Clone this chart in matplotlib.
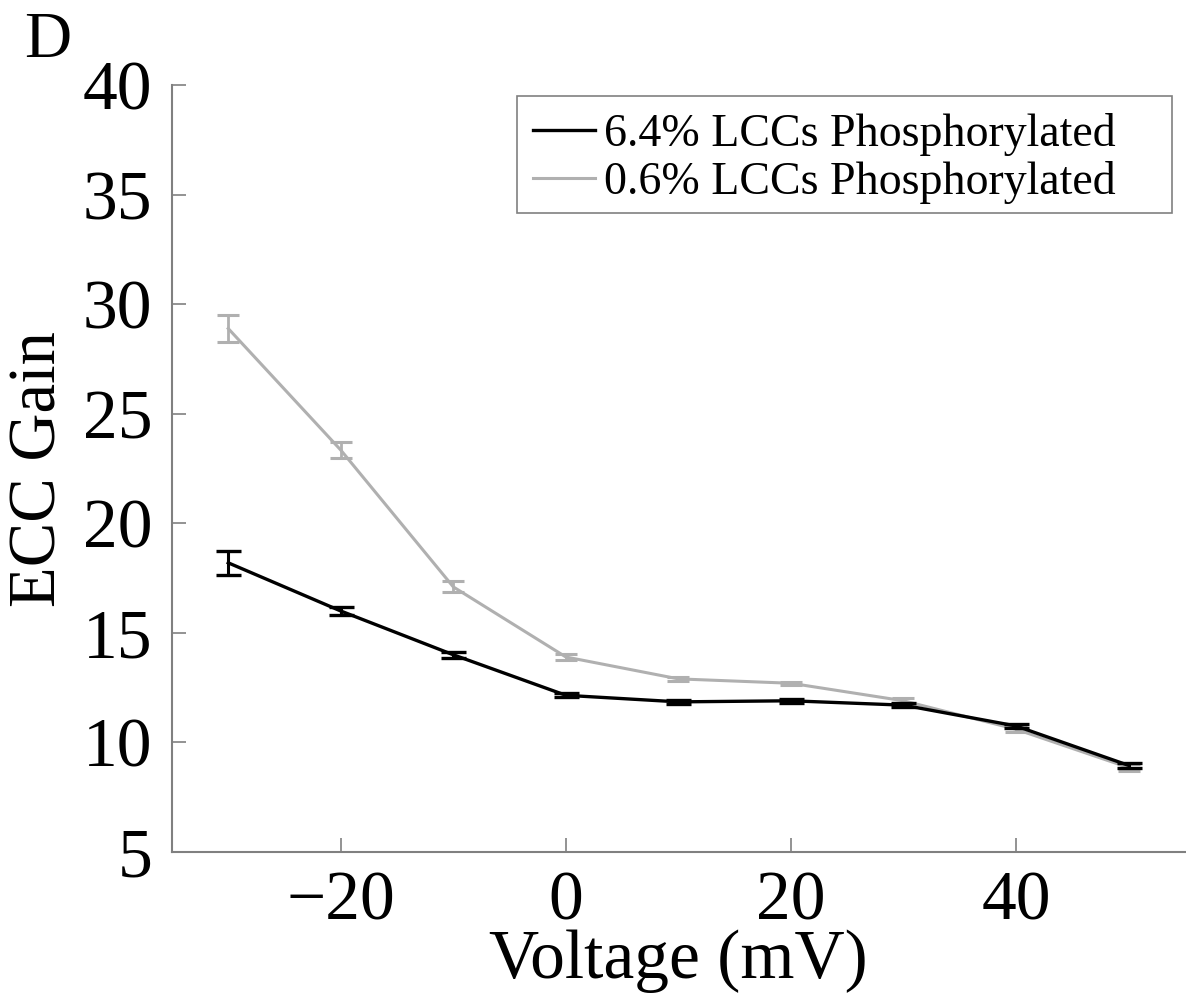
import numpy as np
import matplotlib
matplotlib.use("Agg")
import matplotlib.pyplot as plt
from matplotlib.lines import Line2D
from matplotlib.patches import Rectangle

voltage = [-30, -20, -10, 0, 10, 20, 30, 40, 50]

gain_64 = [18.2, 16.0, 14.0, 12.15, 11.85, 11.9, 11.7, 10.75, 8.95]
err_64 = [0.55, 0.2, 0.15, 0.1, 0.1, 0.08, 0.1, 0.1, 0.12]

gain_06 = [28.9, 23.35, 17.1, 13.9, 12.9, 12.7, 11.9, 10.6, 8.85]
err_06 = [0.6, 0.35, 0.25, 0.12, 0.1, 0.08, 0.12, 0.12, 0.15]

labels = ["6.4% LCCs Phosphorylated", "0.6% LCCs Phosphorylated"]

plt.rcParams['font.family'] = ['Liberation Serif', 'DejaVu Serif']

fig = plt.figure(figsize=(11.86, 9.94), dpi=100)
ax = fig.add_axes([0.145, 0.143, 0.854, 0.771])

gray = '#b0b0b0'
ax.errorbar(voltage, gain_64, yerr=err_64, color='black', lw=2.4,
            capsize=9, capthick=2.4, elinewidth=2.2, zorder=3)
ax.errorbar(voltage, gain_06, yerr=err_06, color=gray, lw=2.2,
            capsize=8, capthick=2.2, elinewidth=2.0, zorder=2)

ax.set_xlim(-35, 55)
ax.set_ylim(5, 40)
ax.set_xticks([-20, 0, 20, 40])
ax.set_xticklabels(['\u221220', '0', '20', '40'])
ax.set_yticks(np.arange(5, 41, 5))

for s in ['top', 'right']:
    ax.spines[s].set_visible(False)
for s in ['left', 'bottom']:
    ax.spines[s].set_color('#808080')
    ax.spines[s].set_linewidth(1.5)
ax.tick_params(direction='in', length=10, width=1.2, color='#808080',
               labelsize=50, pad=14)

ax.set_xlabel('Voltage (mV)', fontsize=50, labelpad=-4)
ax.set_ylabel('ECC Gain', fontsize=48, labelpad=10)

# legend box (wider on the right, as in the original)
fig.patches.append(Rectangle((517 / 1186, 1 - 213 / 994), 655 / 1186, 117 / 994,
                             transform=fig.transFigure, fill=False,
                             edgecolor='#808080', lw=1.2))
handles = [Line2D([], [], color='black', lw=2.4),
           Line2D([], [], color=gray, lw=2.2)]
leg = fig.legend(handles, labels, loc='upper left',
                 bbox_to_anchor=(533 / 1186, 1 - 113 / 994), fontsize=33,
                 frameon=False, handlelength=1.35, handletextpad=0.2,
                 borderpad=0, labelspacing=0.1, borderaxespad=0)

fig.text(0.02, 0.943, 'D', fontsize=47)

fig.savefig('out.png', dpi=100)
